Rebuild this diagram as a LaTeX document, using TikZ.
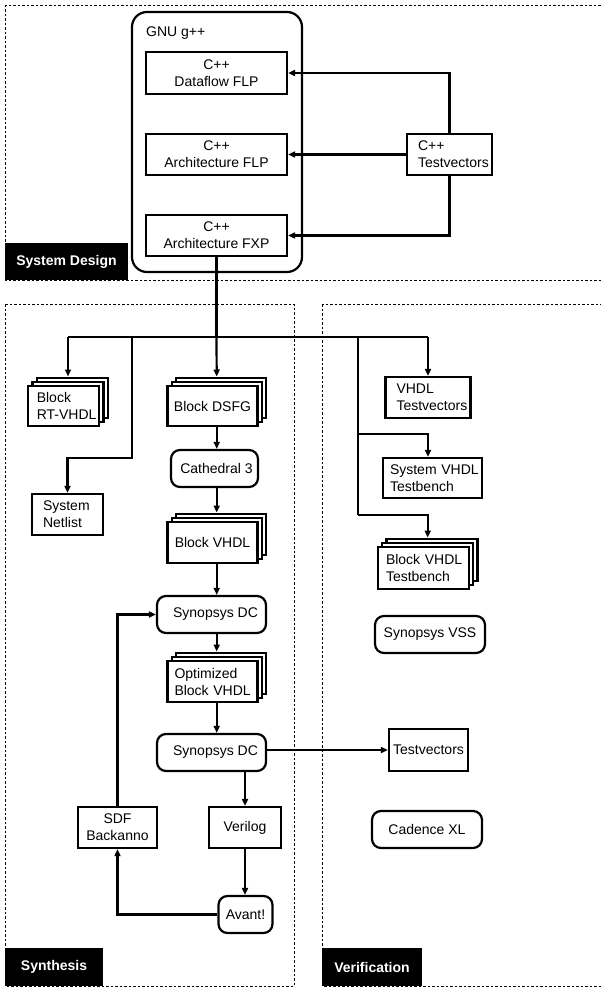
\documentclass[tikz,border=0pt]{standalone}
\usepackage{fontspec}
\setmainfont{Liberation Sans}
\usetikzlibrary{arrows.meta,shadows,calc}
\newcommand{\fs}{\fontsize{14}{17}\selectfont}
\begin{document}
\begin{tikzpicture}[x=1pt,y=-1pt,
  every node/.style={font=\fs},
  bx/.style={draw, line width=2.2pt, fill=white, inner ysep=0pt, inner xsep=0pt, align=center, minimum height=41pt},
  rbx/.style={bx, rounded corners=9pt, minimum height=37pt},
  stk/.style={bx,
    copy shadow={shadow xshift=8.4pt,shadow yshift=8.4pt, draw=black, fill=white, line width=2.2pt},
    copy shadow={shadow xshift=4.2pt,shadow yshift=4.2pt, draw=black, fill=white, line width=2.2pt}},
  lab/.style={fill=black, text=white, font=\fs\bfseries, inner sep=0pt},
  zone/.style={draw, line width=0.9pt, dash pattern=on 2.5pt off 2pt},
  conn/.style={draw, line width=2.2pt},
  arr/.style={conn, -{Triangle[length=7pt,width=6pt]}}]
\useasboundingbox (0,0) rectangle (601,987);
\clip (0,0) rectangle (601,987);

% zones
\draw[zone] (5,5) rectangle (615,280);
\draw[zone] (5,304) rectangle (294,986);
\draw[zone] (322,304) rectangle (615,986);

% System design
\node[draw, line width=2.2pt, rounded corners=15pt, minimum width=170pt, minimum height=260pt, inner sep=0pt] (gnu) at (217,142) {};
\node[anchor=base west, inner sep=0pt] (gnul) at (146,37) {GNU g++};
\node[bx, minimum width=141pt, minimum height=42pt] (dfflp) at (216.5,73) {C++\\Dataflow FLP};
\node[bx, minimum width=141pt] (archflp) at (216.5,154.5) {C++\\Architecture FLP};
\node[bx, minimum width=141pt] (archfxp) at (216.5,235.5) {C++\\Architecture FXP};
\node[bx, align=left, text width=63pt, inner xsep=11pt] (cpptv) at (449.5,154.5) {C++\\\mbox{Testvectors}};
\draw[arr] (cpptv.north) |- (dfflp.east);
\draw[arr] (cpptv.west) -- (archflp.east);
\draw[arr] (cpptv.south) |- (archfxp.east);
\node[lab, minimum width=123pt, minimum height=37pt] (sdl) at (66.5,261.5) {System Design};

% Synthesis
\node[stk, align=left, text width=54pt, inner xsep=8.5pt, minimum height=40pt] (brt) at (63.8,406) {Block\\\mbox{RT-VHDL}};
\node[bx, align=left, text width=49pt, inner xsep=11pt] (snl) at (67.5,514.5) {System\\Netlist};
\node[stk, minimum width=90pt, minimum height=40pt] (dsfg) at (212.5,406) {Block DSFG};
\node[rbx, minimum width=87pt] (cath) at (214.5,468.5) {\hspace*{4pt}Cathedral 3};
\node[stk, minimum width=90pt] (bvhdl) at (212.5,542.5) {Block VHDL};
\node[rbx, minimum width=109pt] (sdc1) at (211.5,614.5) {\hspace*{8pt}Synopsys DC};
\node[stk, align=left, text width=76pt, inner xsep=7pt] (opt) at (212.5,681.5) {Optimized\\\mbox{Block VHDL}};
\node[rbx, minimum width=109pt] (sdc2) at (211.5,752.5) {\hspace*{8pt}Synopsys DC};
\node[bx, minimum width=72pt] (verilog) at (245,827.5) {Verilog};
\node[bx, minimum width=79pt] (sdf) at (117.5,827.5) {SDF\\Backanno};
\node[rbx, minimum width=54pt] (avant) at (245.5,914.5) {Avant!};
\node[lab, minimum width=98pt, minimum height=38pt] (synl) at (54,967) {Synthesis};

% Verification
\node[bx, align=left, text width=63pt, inner xsep=11pt] (vtv) at (428,397.5) {VHDL\\\mbox{Testvectors}};
\node[bx, align=left, text width=85pt, inner xsep=7pt, minimum height=40pt] (svt) at (432.5,478) {\mbox{System VHDL}\\Testbench};
\node[stk, align=left, text width=75pt, inner xsep=8pt, minimum height=42pt] (bvt) at (423.5,568) {\mbox{Block VHDL}\\Testbench};
\node[rbx, minimum width=110pt] (vss) at (430,634.5) {Synopsys VSS};
\node[bx, minimum width=79pt, minimum height=42pt] (tv) at (428.5,750) {Testvectors};
\node[rbx, minimum width=110pt] (cxl) at (427,829.5) {Cadence XL};
\node[lab, minimum width=100pt, minimum height=38pt] (verl) at (372,967) {Verification};

% bus
\coordinate (bL) at (68,337);
\coordinate (bN) at (132,337);
\coordinate (bV) at (358,337);
\coordinate (bR) at (428,337);
\coordinate (v1) at (358,434);
\coordinate (v2) at (358,515);
\coordinate (nK) at (132,458);
\coordinate (brtT) at ([xshift=4.2pt,yshift=8.4pt]brt.north);
\coordinate (dsfgT) at ([xshift=4.2pt,yshift=8.4pt]dsfg.north);
\coordinate (bvhdlT) at ([xshift=4.2pt,yshift=8.4pt]bvhdl.north);
\coordinate (optT) at ([xshift=4.2pt,yshift=8.4pt]opt.north);
\coordinate (bvtT) at ([xshift=4.2pt,yshift=8.4pt]bvt.north);

\draw[conn] (archfxp.south) -- (archfxp.south |- bL);
\draw[conn] (bL) -- (bR);
\draw[arr] (archfxp.south |- bL) -- (dsfgT);
\draw[arr] (bL) -- (brtT);
\draw[arr] (bN) -- (nK) -| (snl.north);
\draw[arr] (bR) -- (vtv.north);
\draw[conn] (bV) -- (v2);
\draw[arr] (v1) -| (bR |- svt.north);
\draw[arr] (v2) -| (bvtT);

% synthesis flow
\draw[arr] (dsfg.south -| dsfgT) -- (cath.north -| dsfgT);
\draw[arr] (cath.south -| bvhdlT) -- (bvhdlT);
\draw[arr] (bvhdl.south -| bvhdlT) -- (sdc1.north -| bvhdlT);
\draw[arr] (sdc1.south -| optT) -- (optT);
\draw[arr] (opt.south -| optT) -- (sdc2.north -| optT);
\draw[arr] (sdc2.east |- tv.west) -- (tv.west);
\draw[arr] (sdc2.south -| verilog.north) -- (verilog.north);
\draw[arr] (verilog.south) -- (verilog.south |- avant.north);
\draw[arr] (avant.west) -| (sdf.south);
\draw[arr] (sdf.north) |- (sdc1.west);
\end{tikzpicture}
\end{document}
